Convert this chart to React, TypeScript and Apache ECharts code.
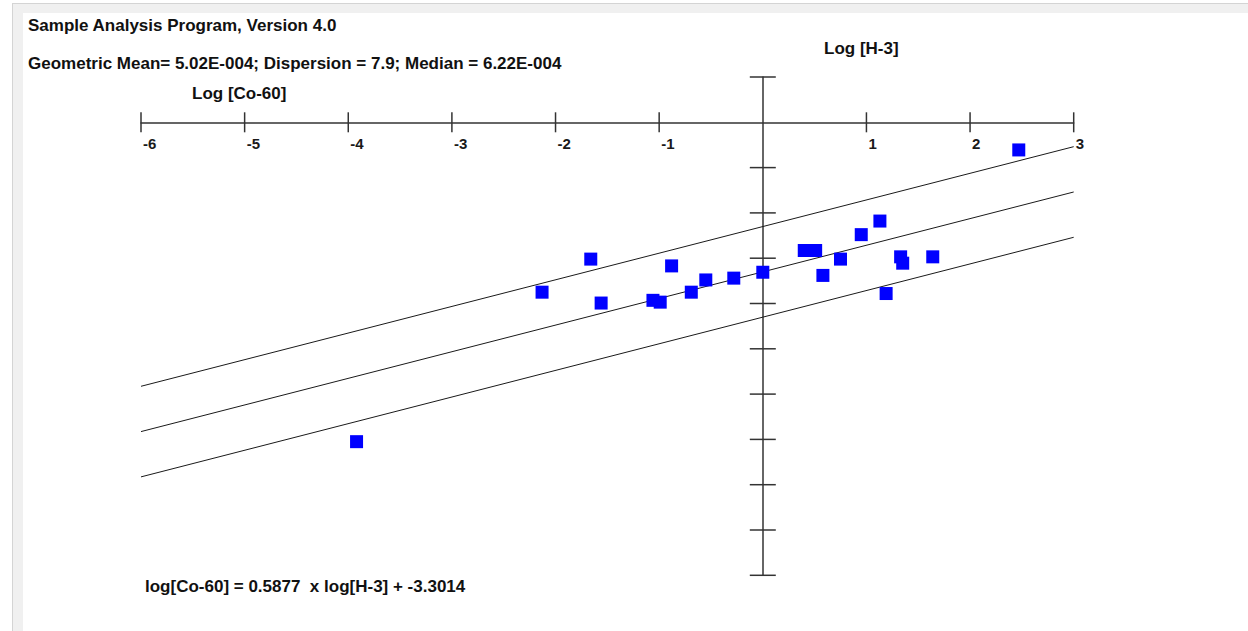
import React, { useEffect, useRef } from "react";
import * as echarts from "echarts";

// Regression of log[Co-60] on log[H-3]
const SLOPE = 0.5877;
const INTERCEPT = -3.3014;
const BAND = 1; // offset of the upper/lower guide lines, log units

const X_MIN = -6;
const X_MAX = 3;
const Y_MIN = -10;
const Y_MAX = 1;

const xTickValues = [-6, -5, -4, -3, -2, -1, 1, 2, 3];
const yTickValues = [1, -1, -2, -3, -4, -5, -6, -7, -8, -9, -10];

// Sample points: [log H-3, log Co-60]
const logH3 = [
  2.47, 1.13, 0.95, 0.4, 0.51, 0.75, 1.33, 1.35, 1.64, 0.58, 1.19,
  0, -0.28, -0.55, -0.69, -0.88, -1.06, -0.99, -1.56, -1.66, -2.13, -3.92,
];
const logCo60 = [
  -0.61, -2.18, -2.48, -2.83, -2.83, -3.02, -2.97, -3.11, -2.97, -3.38, -3.78,
  -3.31, -3.44, -3.48, -3.75, -3.17, -3.93, -3.97, -3.99, -3.02, -3.75, -7.05,
];

const titleText = "Sample Analysis Program, Version 4.0";
const statsText =
  "Geometric Mean= 5.02E-004; Dispersion = 7.9; Median = 6.22E-004";
const xAxisName = "Log [Co-60]";
const yAxisName = "Log [H-3]";
const equationText = `log[Co-60] = ${SLOPE}  x log[H-3] + ${INTERCEPT}`;

const FONT = "'Liberation Sans', Arial, sans-serif";
const TEXT_SIZE = 17;
const TICK_SIZE = 15;

function fitLine(offset: number): number[][] {
  return [X_MIN, X_MAX].map((x) => [x, SLOPE * x + INTERCEPT + offset]);
}

export default function App() {
  const ref = useRef<HTMLDivElement>(null);

  useEffect(() => {
    if (!ref.current) return;
    const chart = echarts.init(ref.current, null, { renderer: "svg" });

    const points = logH3.map((x, i) => [x, logCo60[i]]);
    const tickData = [
      ...xTickValues.map((v) => [v, 0, 0]),
      ...yTickValues.map((v) => [0, v, 1]),
    ];

    const lineStyle = { color: "#1a1a1a", width: 1 };
    const text = (x: number, y: number, t: string) => ({
      type: "text",
      x,
      y,
      style: {
        text: t,
        fill: "#111",
        font: `bold ${TEXT_SIZE}px ${FONT}`,
        verticalAlign: "middle",
      },
    });

    chart.setOption({
      animation: false,
      backgroundColor: "#ffffff",
      grid: { left: 141, top: 77, width: 932.7, height: 498.3, containLabel: false },
      xAxis: {
        type: "value",
        min: X_MIN,
        max: X_MAX,
        interval: 1,
        axisLine: { onZero: true, lineStyle: { color: "#333", width: 1.5 } },
        axisTick: { show: false },
        splitLine: { show: false },
        axisLabel: { show: false },
      },
      yAxis: {
        type: "value",
        min: Y_MIN,
        max: Y_MAX,
        interval: 1,
        axisLine: { onZero: true, lineStyle: { color: "#333", width: 1.5 } },
        axisTick: { show: false },
        axisLabel: { show: false },
        splitLine: { show: false },
      },
      series: [
        {
          // cross ticks on both axes, with labels under the horizontal ones
          type: "custom",
          silent: true,
          data: tickData,
          renderItem: (_params: any, api: any) => {
            const v = api.value(0);
            const c = api.coord([v, api.value(1)]);
            const vertical = api.value(2) === 0;
            if (vertical) {
              return {
                type: "group",
                children: [
                  {
                    type: "line",
                    shape: { x1: c[0], y1: c[1] - 10, x2: c[0], y2: c[1] + 10 },
                    style: { stroke: "#333", lineWidth: 1.5 },
                  },
                  {
                    type: "text",
                    x: c[0] + 2,
                    y: c[1] + 21,
                    style: {
                      text: String(v),
                      fill: "#1a1a1a",
                      font: `bold ${TICK_SIZE}px ${FONT}`,
                      verticalAlign: "middle",
                    },
                  },
                ],
              };
            }
            return {
              type: "line",
              shape: { x1: c[0] - 13, y1: c[1], x2: c[0] + 13, y2: c[1] },
              style: { stroke: "#333", lineWidth: 1.5 },
            };
          },
          z: 3,
        },
        ...[BAND, 0, -BAND].map((off) => ({
          type: "line",
          data: fitLine(off),
          symbol: "none",
          lineStyle,
          silent: true,
          z: 2,
        })),
        {
          type: "scatter",
          data: points,
          symbol: "rect",
          symbolSize: 13,
          itemStyle: { color: "#0000ff", opacity: 1 },
          z: 4,
        },
      ],
      graphic: [
        // window frame
        { type: "rect", shape: { x: 12, y: 3, width: 1236, height: 628 }, style: { fill: "#f0f0f0" }, z: -10 },
        { type: "line", shape: { x1: 12.5, y1: 3, x2: 12.5, y2: 631 }, style: { stroke: "#d4d4d4", lineWidth: 1 }, z: -9 },
        { type: "line", shape: { x1: 12, y1: 3.5, x2: 1248, y2: 3.5 }, style: { stroke: "#d4d4d4", lineWidth: 1 }, z: -9 },
        { type: "rect", shape: { x: 23, y: 13, width: 1225, height: 618 }, style: { fill: "#ffffff" }, z: -8 },
        text(28, 25, titleText),
        text(28, 63, statsText),
        text(192, 93, xAxisName),
        text(824, 48, yAxisName),
        text(145, 586, equationText),
      ],
    });

    return () => chart.dispose();
  }, []);

  return (
    <div
      ref={ref}
      style={{ position: "absolute", left: 0, top: 0, width: 1248, height: 631 }}
    />
  );
}
